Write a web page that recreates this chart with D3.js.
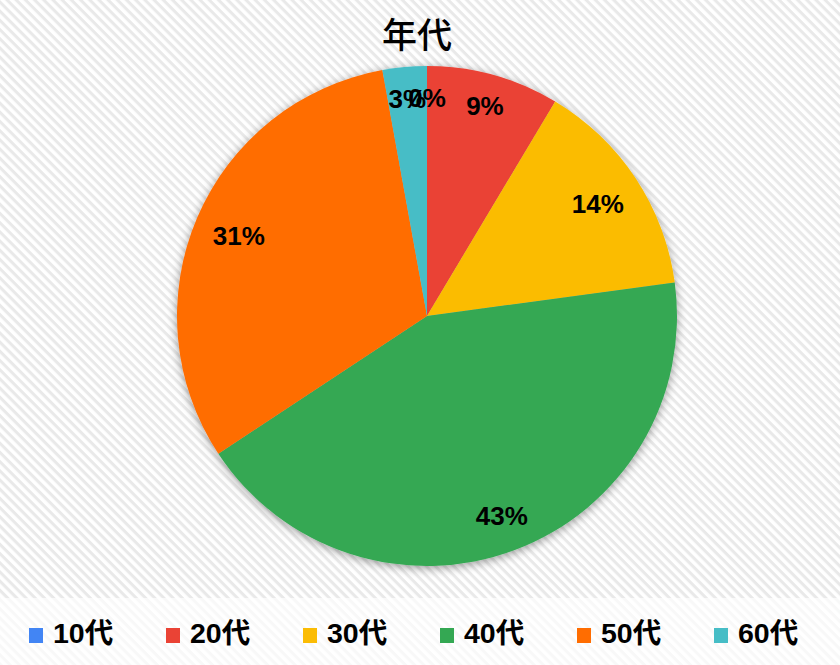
<!DOCTYPE html>
<html><head><meta charset="utf-8">
<script src="https://cdn.jsdelivr.net/npm/d3@7/dist/d3.min.js"></script>
<style>html,body{margin:0;padding:0;background:#fff;}svg{display:block;}</style>
</head><body>
<svg id="c" width="840" height="665"></svg>
<script>
const title = "年代";
const categories = ["10代","20代","30代","40代","50代","60代"];
const counts = [0, 3, 5, 15, 11, 1];
const colors = ["#4285f4","#ea4335","#fbbc04","#34a853","#ff6d01","#46bdc6"];

const W = 840, H = 665;
const svg = d3.select("#c");
const defs = svg.append("defs");

const pat = defs.append("pattern").attr("id","stripes").attr("patternUnits","userSpaceOnUse")
  .attr("width",6.5).attr("height",6.5).attr("patternTransform","rotate(45)");
pat.append("rect").attr("width",6.5).attr("height",6.5).attr("fill","#ffffff");
pat.append("rect").attr("width",6.5).attr("height",3).attr("fill","#e9e9e9");

const pat2 = defs.append("pattern").attr("id","stripes2").attr("patternUnits","userSpaceOnUse")
  .attr("width",6.5).attr("height",6.5).attr("patternTransform","rotate(45)");
pat2.append("rect").attr("width",6.5).attr("height",6.5).attr("fill","#ffffff");
pat2.append("rect").attr("width",6.5).attr("height",3).attr("fill","#f8f8f8");

const f = defs.append("filter").attr("id","shadow").attr("x","-20%").attr("y","-20%").attr("width","140%").attr("height","140%");
f.append("feDropShadow").attr("dx",0).attr("dy",2).attr("stdDeviation",5)
  .attr("flood-color","#000").attr("flood-opacity",0.4);

svg.append("rect").attr("width",W).attr("height",598).attr("fill","url(#stripes)");
svg.append("rect").attr("y",598).attr("width",W).attr("height",H-598).attr("fill","url(#stripes2)");

svg.append("text").attr("x",417).attr("y",48).attr("text-anchor","middle")
  .attr("font-family","'Noto Sans CJK JP', sans-serif").attr("font-size",35)
  .attr("font-weight",500)
  .attr("fill","#000").text(title);

const cx = 427, cy = 316, R = 250;
const total = d3.sum(counts);
const pie = d3.pie().sort(null).value(d => d)(counts);
const arc = d3.arc().innerRadius(0).outerRadius(R);

const g = svg.append("g").attr("transform",`translate(${cx},${cy})`);
const slices = g.append("g").attr("filter","url(#shadow)");
slices.selectAll("path").data(pie).join("path")
  .attr("d", arc).attr("fill",(d,i)=>colors[i]);

const fs = 26;
const labels = g.append("g").attr("font-family","'Liberation Sans', Arial, sans-serif")
  .attr("font-weight","bold").attr("font-size",fs).attr("fill","#000");
pie.forEach((d,i) => {
  const txt = Math.round(d.value/total*100) + "%";
  const t = labels.append("text").attr("text-anchor","middle").text(txt);
  const bw = t.node().getComputedTextLength();
  const bh = fs*0.72;
  const a = (d.startAngle + d.endAngle)/2;
  let r = 0.875*R;
  const fits = rr => {
    const x = rr*Math.sin(a), y = -rr*Math.cos(a);
    let m = 0;
    for (const sx of [-1,1]) for (const sy of [-1,1]) {
      const px = x + sx*bw/2, py = y + sy*bh/2;
      m = Math.max(m, Math.hypot(px,py));
    }
    return m <= 0.93*R;
  };
  while (r > 0 && !fits(r)) r -= 1;
  const x = r*Math.sin(a), y = -r*Math.cos(a);
  t.attr("x",x).attr("y",y + bh/2);
});

const lg = svg.append("g");
categories.forEach((c,i) => {
  const x = 29 + i*137;
  lg.append("rect").attr("x",x).attr("y",628).attr("width",14).attr("height",15).attr("fill",colors[i]);
  lg.append("text").attr("x",x+24).attr("y",643)
    .attr("font-family","'Liberation Sans', Arial, 'Noto Sans CJK JP', sans-serif")
    .attr("font-weight","bold").attr("font-size",28.5).attr("fill","#000").text(c);
});
</script>
</body></html>
